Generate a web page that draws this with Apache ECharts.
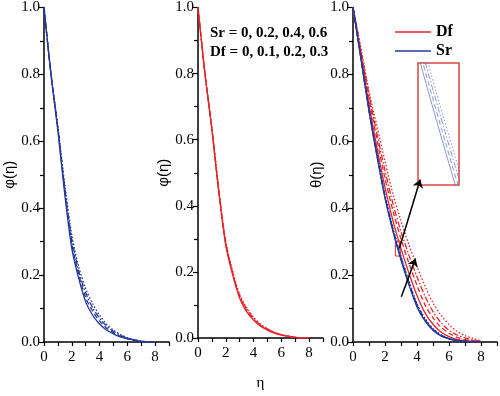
<!DOCTYPE html>
<html>
<head>
<meta charset="utf-8">
<script src="https://cdn.jsdelivr.net/npm/echarts@6/dist/echarts.min.js"></script>
<style>
  html, body { margin: 0; padding: 0; background: #fff; }
  #chart { width: 500px; height: 396px; }
</style>
</head>
<body>
<div id="chart"></div>
<script>
// eta grid shared by all curves
const eta = [0, 0.5, 1, 1.5, 2, 2.5, 3, 3.5, 4, 4.5, 5, 5.5, 6, 6.5, 7, 7.5, 8]

// panel 1: phi for Sr = 0, 0.2, 0.4, 0.6
const phiSr0 = [1, 0.80, 0.63, 0.44, 0.28, 0.19, 0.12, 0.08, 0.054, 0.036, 0.024, 0.015, 0.009, 0.005, 0.002, 0.0005, 0]
const phiSr2 = [1, 0.80, 0.635, 0.45, 0.293, 0.202, 0.133, 0.092, 0.063, 0.042, 0.028, 0.017, 0.010, 0.006, 0.002, 0.0007, 0]
const phiSr4 = [1, 0.803, 0.64, 0.46, 0.307, 0.213, 0.147, 0.103, 0.071, 0.048, 0.032, 0.020, 0.012, 0.0065, 0.0025, 0.0008, 0]
const phiSr6 = [1, 0.805, 0.645, 0.47, 0.32, 0.225, 0.16, 0.115, 0.08, 0.054, 0.036, 0.023, 0.013, 0.007, 0.003, 0.001, 0]

// panel 2: phi for Df = 0, 0.1, 0.2, 0.3
const phiDf0 = [1, 0.80, 0.63, 0.44, 0.28, 0.19, 0.12, 0.08, 0.054, 0.036, 0.024, 0.015, 0.009, 0.005, 0.002, 0.0005, 0]
const phiDf1 = [1, 0.80, 0.632, 0.443, 0.284, 0.194, 0.124, 0.084, 0.057, 0.038, 0.025, 0.016, 0.0095, 0.0052, 0.002, 0.0005, 0]
const phiDf2 = [1, 0.80, 0.634, 0.446, 0.288, 0.198, 0.128, 0.088, 0.060, 0.040, 0.027, 0.017, 0.010, 0.0055, 0.0022, 0.0006, 0]
const phiDf3 = [1, 0.80, 0.636, 0.449, 0.292, 0.202, 0.132, 0.092, 0.063, 0.042, 0.028, 0.018, 0.0105, 0.0058, 0.0023, 0.0006, 0]

// panel 3: theta for Df (red) and Sr (blue)
const thDf0 = [1, 0.855, 0.71, 0.58, 0.462, 0.362, 0.279, 0.205, 0.139, 0.087, 0.053, 0.030, 0.016, 0.008, 0.004, 0.002, 0]
const thDf1 = [1, 0.865, 0.728, 0.605, 0.49, 0.392, 0.308, 0.235, 0.169, 0.111, 0.072, 0.044, 0.026, 0.014, 0.007, 0.004, 0.001]
const thDf2 = [1, 0.87, 0.74, 0.622, 0.513, 0.413, 0.33, 0.259, 0.195, 0.137, 0.091, 0.058, 0.035, 0.021, 0.012, 0.006, 0.002]
const thDf3 = [1, 0.879, 0.75, 0.645, 0.54, 0.442, 0.362, 0.29, 0.226, 0.167, 0.117, 0.08, 0.052, 0.032, 0.019, 0.011, 0.004]
const thSr0 = [1, 0.845, 0.69, 0.555, 0.43, 0.33, 0.245, 0.17, 0.105, 0.063, 0.035, 0.018, 0.009, 0.004, 0.002, 0.0005, 0]
const thSr2 = [1, 0.8462, 0.6923, 0.5581, 0.4336, 0.3337, 0.2488, 0.1739, 0.1084, 0.0655, 0.0368, 0.0191, 0.0097, 0.0044, 0.0022, 0.0005, 0]
const thSr4 = [1, 0.8474, 0.6946, 0.5612, 0.4372, 0.3374, 0.2526, 0.1778, 0.1118, 0.068, 0.0386, 0.0202, 0.0104, 0.0048, 0.0024, 0.0005, 0]
const thSr6 = [1, 0.8486, 0.6969, 0.5643, 0.4408, 0.3411, 0.2564, 0.1817, 0.1152, 0.0705, 0.0404, 0.0213, 0.0111, 0.0052, 0.0026, 0.0005, 0]

const BLUE = '#24389a'
const RED = '#e2262b'
const serif = '"Liberation Serif", "DejaVu Serif", serif'
const dashes = ['solid', [5, 3], [6, 2, 1.5, 2], [1.5, 2]]

const pairs = vals => eta.map((x, i) => [x, vals[i]])

function curve (name, vals, idx, color, k, width) {
  return {
    name: name,
    type: 'line',
    xAxisIndex: idx,
    yAxisIndex: idx,
    data: pairs(vals),
    symbol: 'none',
    smooth: 0.3,
    lineStyle: { color: color, width: width || 1.3, type: dashes[k] },
    itemStyle: { color: color }
  }
}

function xAx (idx, extra) {
  return Object.assign({
    type: 'value',
    gridIndex: idx,
    min: 0,
    max: 9,
    interval: 1,
    axisLine: { lineStyle: { color: '#000', width: 1.5 } },
    axisTick: { length: 4, lineStyle: { color: '#000', width: 1.2 } },
    axisLabel: {
      color: '#000',
      fontFamily: serif,
      fontSize: 15,
      margin: 8,
      formatter: v => (v % 2 === 0 ? String(v) : '')
    },
    splitLine: { show: false }
  }, extra)
}

function yAx (idx, name, gap) {
  return {
    type: 'value',
    gridIndex: idx,
    min: 0,
    max: 1,
    interval: 0.2,
    name: name,
    nameLocation: 'middle',
    nameGap: gap,
    nameTextStyle: { color: '#000', fontFamily: '"Liberation Sans", Arial, sans-serif', fontSize: 15 },
    axisLine: { show: true, lineStyle: { color: '#000', width: 1.5 } },
    axisTick: { length: 5, lineStyle: { color: '#000', width: 1.2 } },
    minorTick: { show: true, splitNumber: 2, length: 4, lineStyle: { color: '#000', width: 1.2 } },
    axisLabel: { color: '#000', fontFamily: serif, fontSize: 15, margin: 4, formatter: v => v.toFixed(1) },
    splitLine: { show: false }
  }
}

const chart = echarts.init(document.getElementById('chart'), null, { renderer: 'canvas' })

const thetaRed0 = curve('Df', thDf0, 2, RED, 0)
thetaRed0.markArea = {
  silent: true,
  itemStyle: { color: 'rgba(0,0,0,0)', borderColor: RED, borderWidth: 1 },
  data: [[{ coord: [2.65, 0.302] }, { coord: [2.95, 0.257] }]]
}
thetaRed0.markLine = {
  silent: true,
  symbol: ['none', 'arrow'],
  symbolSize: 8,
  label: { show: false },
  lineStyle: { color: '#000', width: 1.5, type: 'solid' },
  data: [
    [{ coord: [2.9, 0.28] }, { coord: [4.2, 0.486] }],
    [{ coord: [3.02, 0.135] }, { coord: [3.91, 0.25] }]
  ]
}

chart.setOption({
  animation: false,
  backgroundColor: '#fff',
  grid: [
    { left: 44, top: 7, width: 125, height: 335 },
    { left: 198, top: 7, width: 125, height: 335 },
    { left: 353, top: 7, width: 146, height: 335 },
    { left: 418, top: 63, width: 41, height: 122, show: true, borderColor: '#d9453f', borderWidth: 1.5, backgroundColor: 'rgba(0,0,0,0)' }
  ],
  xAxis: [
    xAx(0),
    xAx(1, { name: 'η', nameLocation: 'middle', nameGap: 38, nameTextStyle: { color: '#000', fontFamily: serif, fontSize: 15 } }),
    xAx(2),
    { type: 'value', gridIndex: 3, min: 2.62, max: 2.97, show: false }
  ],
  yAxis: [
    yAx(0, 'φ(η)', 25),
    yAx(1, 'φ(η)', 23),
    yAx(2, 'θ(η)', 29),
    { type: 'value', gridIndex: 3, min: 0.255, max: 0.305, show: false }
  ],
  legend: {
    data: ['Df', 'Sr'],
    orient: 'vertical',
    left: 390,
    top: 19,
    icon: 'rect',
    itemWidth: 36,
    itemHeight: 1.5,
    itemGap: 3,
    selectedMode: false,
    textStyle: { color: '#000', fontFamily: serif, fontSize: 16, fontWeight: 'bold' }
  },
  graphic: [
    {
      type: 'text',
      left: 210,
      top: 24,
      style: {
        text: 'Sr = 0, 0.2, 0.4, 0.6\nDf = 0, 0.1, 0.2, 0.3',
        font: 'bold 15px "Liberation Serif"',
        lineHeight: 19,
        fill: '#000'
      }
    }
  ],
  series: [
    curve('Sr=0', phiSr0, 0, BLUE, 0),
    curve('Sr=0.2', phiSr2, 0, BLUE, 1),
    curve('Sr=0.4', phiSr4, 0, BLUE, 2),
    curve('Sr=0.6', phiSr6, 0, BLUE, 3),
    curve('Df=0', phiDf0, 1, RED, 0),
    curve('Df=0.1', phiDf1, 1, RED, 1),
    curve('Df=0.2', phiDf2, 1, RED, 2),
    curve('Df=0.3', phiDf3, 1, RED, 3),
    thetaRed0,
    curve('Df 0.1', thDf1, 2, RED, 1),
    curve('Df 0.2', thDf2, 2, RED, 2),
    curve('Df 0.3', thDf3, 2, RED, 3),
    curve('Sr', thSr0, 2, BLUE, 0),
    curve('Sr 0.2', thSr2, 2, BLUE, 1),
    curve('Sr 0.4', thSr4, 2, BLUE, 2),
    curve('Sr 0.6', thSr6, 2, BLUE, 3),
    // inset: zoom of the Sr curves inside the small box
    curve('in0', thSr0, 3, '#6f7bc4', 0, 0.8),
    curve('in2', thSr2, 3, '#6f7bc4', 1, 0.8),
    curve('in4', thSr4, 3, '#6f7bc4', 2, 0.8),
    curve('in6', thSr6, 3, '#6f7bc4', 3, 0.8)
  ]
})
</script>
</body>
</html>
